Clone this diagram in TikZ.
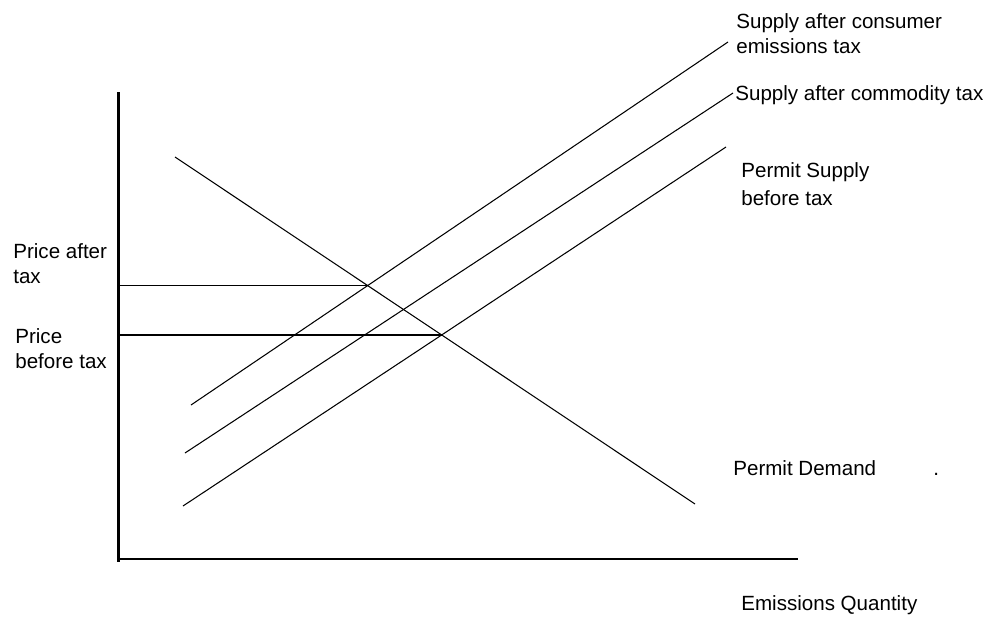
\documentclass[tikz,border=0pt]{standalone}
\usepackage{fontspec}
\setmainfont{Liberation Sans}
\begin{document}
\begin{tikzpicture}[axis/.style={line width=1.2pt},
  curve/.style={line width=0.6pt},
  lbl/.style={anchor=base west,align=left,inner sep=0pt,font=\fontsize{11.7}{14.2}\selectfont}]
\useasboundingbox (0,0) rectangle (19.8,12.34);
% axes
\draw[axis] (2.37,10.5) -- (2.37,1.1);
\draw[axis] (2.37,1.16) -- (15.96,1.16);
% demand and the three supply curves
\coordinate (D1) at (3.5,9.2);   \coordinate (D2) at (13.9,2.26);
\coordinate (C1) at (3.82,4.24); \coordinate (C2) at (14.56,11.5);
\coordinate (T1) at (3.7,3.28);  \coordinate (T2) at (14.66,10.48);
\coordinate (P1) at (3.66,2.22); \coordinate (P2) at (14.52,9.4);
\draw[curve] (D1) -- (D2);
\draw[curve] (C1) -- (C2);
\draw[curve] (T1) -- (T2);
\draw[curve] (P1) -- (P2);
% price lines
\coordinate (after) at (intersection of D1--D2 and C1--C2);
\coordinate (before) at (intersection of D1--D2 and P1--P2);
\draw[line width=0.8pt] (2.37,0|-after) -- (after);
\draw[line width=0.8pt] (2.37,0|-before) -- (before);
% labels (base = last line)
\node[lbl] (pa) at (0.26,6.68) {Price after\\tax};
\node[lbl] (pb) at (0.3,4.98) {Price\\before tax};
\node[lbl] (sc) at (14.72,11.28) {Supply after consumer\\emissions tax};
\node[lbl] (st) at (14.7,10.34) {Supply after commodity tax};
\node[lbl] (ps) at (14.82,8.24) {Permit Supply\\[0.06cm]before tax};
\node[lbl] (pd) at (14.66,2.84) {Permit Demand};
\node[lbl] (dot) at (18.66,2.84) {.};
\node[lbl] (eq) at (14.82,0.14) {Emissions Quantity};
\end{tikzpicture}
\end{document}
